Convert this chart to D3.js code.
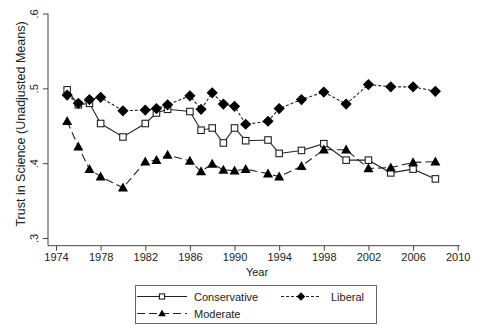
<!DOCTYPE html>
<html>
<head>
<meta charset="utf-8">
<script src="https://cdn.jsdelivr.net/npm/d3@7"></script>
<style>
  html, body { margin: 0; padding: 0; background: #fff; }
  svg { display: block; font-family: "Liberation Sans", Arial, sans-serif; }
</style>
</head>
<body>
<svg id="chart" width="480" height="331"></svg>
<script>
// Survey years
const years = [1975, 1976, 1977, 1978, 1980, 1982, 1983, 1984, 1986, 1987, 1988, 1989,
               1990, 1991, 1993, 1994, 1996, 1998, 2000, 2002, 2004, 2006, 2008];

// Mean trust in science by political identification
const conservative = [0.498, 0.478, 0.480, 0.453, 0.435, 0.453, 0.467, 0.472, 0.469, 0.444, 0.447, 0.427,
                      0.447, 0.430, 0.431, 0.413, 0.417, 0.426, 0.404, 0.404, 0.387, 0.392, 0.379];
const liberal      = [0.491, 0.480, 0.485, 0.488, 0.470, 0.471, 0.473, 0.478, 0.490, 0.472, 0.494, 0.479,
                      0.476, 0.452, 0.456, 0.473, 0.485, 0.495, 0.479, 0.505, 0.502, 0.502, 0.496];
const moderate     = [0.456, 0.422, 0.392, 0.382, 0.367, 0.402, 0.404, 0.411, 0.403, 0.389, 0.399, 0.391,
                      0.390, 0.392, 0.386, 0.382, 0.396, 0.418, 0.418, 0.393, 0.394, 0.401, 0.402];

const xTicks = [1974, 1978, 1982, 1986, 1990, 1994, 1998, 2002, 2006, 2010];
const yTicks = [0.3, 0.4, 0.5, 0.6];
const yTickLabels = [".3", ".4", ".5", ".6"];

const svg = d3.select("#chart");
const ink = "#222";
const axisInk = "#444";

const x = d3.scaleLinear().domain([1974, 2010]).range([56, 457.7]);
const y = d3.scaleLinear().domain([0.3, 0.6]).range([238, 13.5]);

const axisY0 = 245.7, axisX0 = 48;

// X axis
const gx = svg.append("g").attr("transform", `translate(0,${axisY0})`)
  .call(d3.axisBottom(x).tickValues(xTicks).tickFormat(d3.format("d")).tickSize(5).tickPadding(3));
gx.select(".domain").attr("d", `M${axisX0},0H${x(2010) + 2}`).attr("stroke", axisInk);
gx.selectAll(".tick line").attr("stroke", axisInk);
gx.selectAll(".tick text").attr("font-size", 11).attr("fill", ink).attr("font-family", "Liberation Sans, Arial, sans-serif");

// Y axis
const gy = svg.append("g").attr("transform", `translate(${axisX0},0)`)
  .call(d3.axisLeft(y).tickValues(yTicks).tickFormat((d, i) => yTickLabels[i]).tickSize(5).tickPadding(3));
gy.select(".domain").attr("d", `M0,${y(0.6)}V${axisY0}`).attr("stroke", axisInk);
gy.selectAll(".tick line").attr("stroke", axisInk);
gy.selectAll(".tick text")
  .attr("font-size", 11).attr("fill", ink).attr("font-family", "Liberation Sans, Arial, sans-serif")
  .attr("text-anchor", "middle").attr("dy", null).attr("x", null)
  .attr("transform", "translate(-10,0) rotate(-90)")
  .attr("dominant-baseline", "auto");

// Axis titles
svg.append("text").attr("x", 257).attr("y", 276).attr("text-anchor", "middle")
  .attr("font-size", 11).attr("fill", ink).text("Year");
svg.append("text").attr("transform", "translate(25,124) rotate(-90)").attr("text-anchor", "middle")
  .attr("font-size", 12.5).attr("fill", ink).text("Trust in Science (Unadjusted Means)");

// Series
const series = [
  { name: "Conservative", values: conservative, dash: null, marker: "square" },
  { name: "Liberal", values: liberal, dash: "3,2", marker: "diamond" },
  { name: "Moderate", values: moderate, dash: "8,4", marker: "triangle" }
];

function drawMarker(g, type, cx, cy, sizeScale) {
  if (type === "square") {
    const s = 6.5 * (sizeScale || 1);
    g.append("rect").attr("x", cx - s / 2).attr("y", cy - s / 2).attr("width", s).attr("height", s)
      .attr("fill", "#fff").attr("stroke", ink).attr("stroke-width", 1.1);
  } else if (type === "diamond") {
    const r = 5.6 * (sizeScale || 1);
    g.append("path").attr("d", `M${cx},${cy - r}L${cx + r},${cy}L${cx},${cy + r}L${cx - r},${cy}Z`)
      .attr("fill", "#000");
  } else {
    const r = 5 * (sizeScale || 1);
    g.append("path").attr("d", `M${cx},${cy - r * 1.05}L${cx + r},${cy + r * 0.75}L${cx - r},${cy + r * 0.75}Z`)
      .attr("fill", "#000");
  }
}

const line = d3.line().x(d => x(d[0])).y(d => y(d[1]));

series.forEach(s => {
  const pts = years.map((yr, i) => [yr, s.values[i]]);
  svg.append("path").datum(pts).attr("d", line)
    .attr("fill", "none").attr("stroke", ink).attr("stroke-width", 1.1)
    .attr("stroke-dasharray", s.dash);
});
series.forEach(s => {
  const g = svg.append("g");
  years.forEach((yr, i) => drawMarker(g, s.marker, x(yr), y(s.values[i])));
});

// Legend
const lg = svg.append("g");
lg.append("rect").attr("x", 135.5).attr("y", 285.5).attr("width", 241).attr("height", 38)
  .attr("fill", "#fff").attr("stroke", "#666").attr("stroke-width", 1);
const legendItems = [
  { s: series[0], x0: 137, ty: 296.5 },
  { s: series[1], x0: 281, ty: 296.5 },
  { s: series[2], x0: 137, ty: 313.5 }
];
legendItems.forEach(it => {
  const lw = it.s.name === "Liberal" ? 40 : 50;
  lg.append("line").attr("x1", it.x0).attr("x2", it.x0 + lw).attr("y1", it.ty).attr("y2", it.ty)
    .attr("stroke", ink).attr("stroke-width", 1.1).attr("stroke-dasharray", it.s.dash);
  drawMarker(lg, it.s.marker, it.x0 + lw / 2, it.ty, it.s.marker === "square" ? 0.8 : 0.75);
  lg.append("text").attr("x", it.s.name === "Liberal" ? it.x0 + 50 : it.x0 + 57).attr("y", it.ty + 4)
    .attr("font-size", 11).attr("fill", ink).text(it.s.name);
});
</script>
</body>
</html>
